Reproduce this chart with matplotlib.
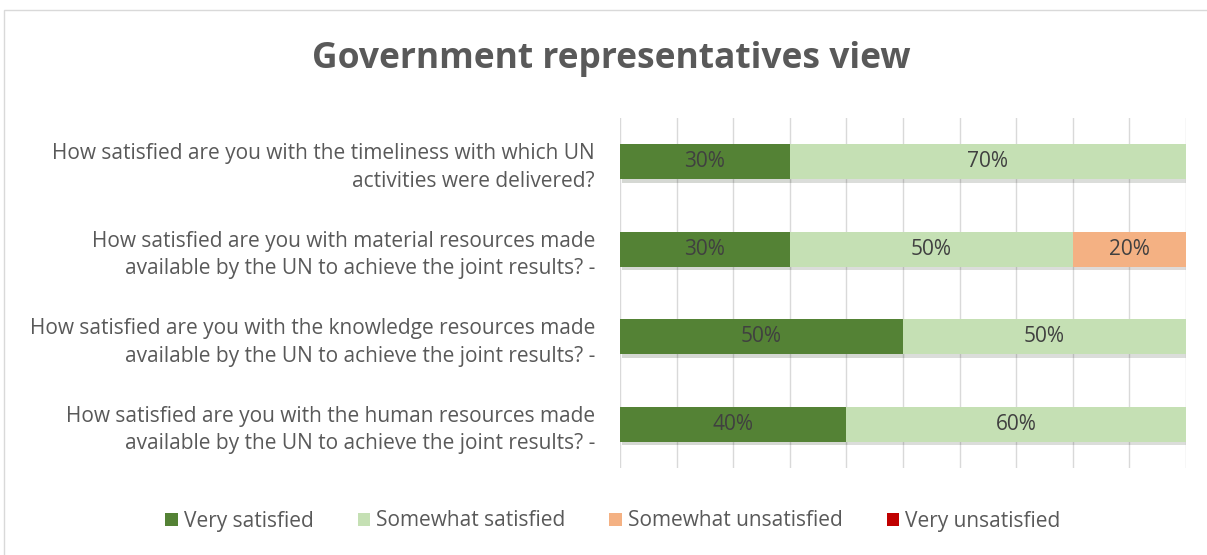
import numpy as np
import matplotlib
matplotlib.use('Agg')
import matplotlib.pyplot as plt
import matplotlib.patheffects as pe
from matplotlib.patches import Rectangle, Patch

plt.rcParams['font.family'] = ['Open Sans', 'DejaVu Sans']

# survey items, top to bottom
questions = [
    'How satisfied are you with the timeliness with which UN\nactivities were delivered?',
    'How satisfied are you with material resources made\navailable by the UN to achieve the joint results? -',
    'How satisfied are you with the knowledge resources made\navailable by the UN to achieve the joint results? -',
    'How satisfied are you with the human resources made\navailable by the UN to achieve the joint results? -',
]
very_satisfied = [30, 30, 50, 40]
somewhat_satisfied = [70, 50, 50, 60]
somewhat_unsatisfied = [0, 20, 0, 0]
very_unsatisfied = [0, 0, 0, 0]

series = [
    ('Very satisfied', very_satisfied, '#548235'),
    ('Somewhat satisfied', somewhat_satisfied, '#C5E0B4'),
    ('Somewhat unsatisfied', somewhat_unsatisfied, '#F4B183'),
    ('Very unsatisfied', very_unsatisfied, '#C00000'),
]

fig = plt.figure(figsize=(12.07, 5.55), dpi=100)
fig.patches.append(Rectangle((4 / 1207, -0.05), 1.1, 1 - 10 / 555 + 0.05,
                             transform=fig.transFigure, fill=False,
                             edgecolor='#D9D9D9', linewidth=1.0))

ax = fig.add_axes([620 / 1207, 1 - 468 / 555, 566 / 1207, 350 / 555])
y = np.arange(len(questions))
left = np.zeros(len(questions))
shadow = [pe.SimplePatchShadow(offset=(1.5, -2.5), alpha=0.18), pe.Normal()]

for name, vals, color in series:
    vals = np.array(vals, dtype=float)
    bars = ax.barh(y, vals, left=left, height=0.4, color=color, zorder=3)
    for bar, v in zip(bars, vals):
        if v > 0:
            bar.set_path_effects(shadow)
            ax.text(bar.get_x() + bar.get_width() / 2, bar.get_y() + bar.get_height() / 2,
                    f'{v:.0f}%', ha='center', va='center', fontsize=15,
                    color='#404040', zorder=4)
    left += vals

ax.set_xlim(0, 100)
ax.set_ylim(len(questions) - 0.5, -0.5)
ax.set_xticks(np.arange(0, 101, 10))
ax.set_xticklabels([])
ax.tick_params(axis='both', length=0)
ax.grid(axis='x', color='#D9D9D9', linewidth=1.0, zorder=0)
for s in ax.spines.values():
    s.set_visible(False)

ax.set_yticks(y)
ax.set_yticklabels(questions, fontsize=15, color='#595959', ha='right',
                   linespacing=1.4)
ax.tick_params(axis='y', pad=18)

fig.text(611 / 1207, 1 - 59 / 555, 'Government representatives view',
         ha='center', va='center', fontsize=25.5, fontweight='bold',
         color='#595959')

handles = [Patch(facecolor=c, label=n) for n, _, c in series]
fig.legend(handles=handles, loc='center', bbox_to_anchor=(613 / 1207, 1 - 521 / 555),
           ncol=4, frameon=False, fontsize=15, handlelength=0.6,
           handleheight=0.6, handletextpad=0.3, columnspacing=2.1,
           labelcolor='#595959')

fig.savefig('out.png', dpi=100)
